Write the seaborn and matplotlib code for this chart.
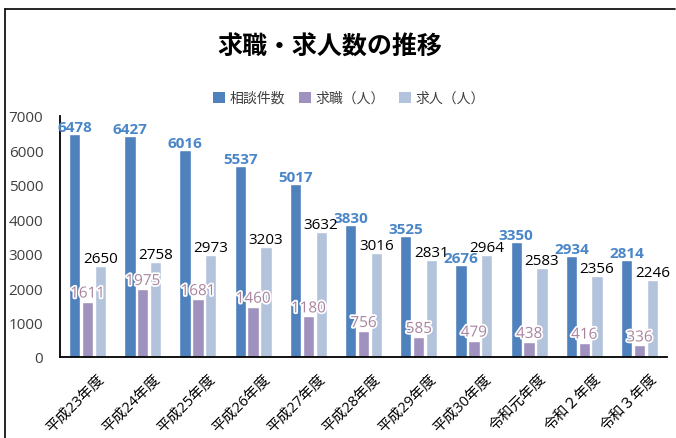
import matplotlib
matplotlib.use("Agg")
import matplotlib.pyplot as plt
import matplotlib.patheffects as pe
import matplotlib.transforms as mtransforms
import seaborn as sns
import pandas as pd
from matplotlib.lines import Line2D
from matplotlib.patches import Patch

categories = ["平成23年度", "平成24年度", "平成25年度", "平成26年度", "平成27年度",
              "平成28年度", "平成29年度", "平成30年度", "令和元年度", "令和２年度", "令和３年度"]
series_names = ["相談件数", "求職（人）", "求人（人）"]
consult = [6478, 6427, 6016, 5537, 5017, 3830, 3525, 2676, 3350, 2934, 2814]
seekers = [1611, 1975, 1681, 1460, 1180, 756, 585, 479, 438, 416, 336]
openings = [2650, 2758, 2973, 3203, 3632, 3016, 2831, 2964, 2583, 2356, 2246]
yticks = [0, 1000, 2000, 3000, 4000, 5000, 6000, 7000]

bar_colors = ["#4F81BD", "#A092BE", "#B4C3DC"]
label_colors = ["#4A86C8", "#A9849F", "#000000"]

sns.set_theme(style="white")
FAM = ['Open Sans', 'Noto Sans CJK JP', 'DejaVu Sans']
plt.rcParams['font.family'] = FAM

df = pd.DataFrame({
    "cat": categories * 3,
    "series": [series_names[0]] * 11 + [series_names[1]] * 11 + [series_names[2]] * 11,
    "value": consult + seekers + openings,
})

fig = plt.figure(figsize=(6.76, 4.39), dpi=100)
ax = fig.add_axes([60/676, 1 - 358/439, 607/676, 241/439])

sns.barplot(data=df, x="cat", y="value", hue="series", order=categories,
            hue_order=series_names, palette=bar_colors, width=0.7, gap=0.12,
            saturation=1, ax=ax, legend=False)

ax.set_ylim(0, 7000)
ax.set_xlim(-0.5, 10.5)
ax.set_yticks(yticks)
ax.set_yticklabels([str(v) for v in yticks], fontsize=11, color="#404040")
ax.tick_params(axis="y", length=0, pad=12)
ax.tick_params(axis="x", length=0, pad=0)
ax.set_xticks(range(len(categories)))
ax.set_xticklabels(categories, rotation=45, ha="right", va="center",
                   rotation_mode="anchor", fontsize=10.5, color="#000000")
offset = mtransforms.ScaledTranslation(15/100, -19/100, fig.dpi_scale_trans)
for lab in ax.get_xticklabels():
    lab.set_transform(lab.get_transform() + offset)
ax.set_xlabel("")
ax.set_ylabel("")
for s in ["top", "right"]:
    ax.spines[s].set_visible(False)
for s in ["left", "bottom"]:
    ax.spines[s].set_color("#000000")
    ax.spines[s].set_linewidth(1.3)
ax.grid(False)

for i, cont in enumerate(ax.containers):
    kw = {}
    if i == 1:
        kw["path_effects"] = [pe.withStroke(linewidth=2.5, foreground="white")]
    ax.bar_label(cont, labels=[str(int(v)) for v in cont.datavalues], padding=0,
                 fontsize=11, color=label_colors[i],
                 fontweight="bold" if i == 0 else "normal", **kw)

fig.text(330/676, 1 - 48/439, "求職・求人数の推移", ha="center", va="center",
         fontsize=18, fontweight="bold", color="#000000",
         family=['Noto Sans CJK JP', 'DejaVu Sans'])

handles = [Patch(facecolor=c, edgecolor="none") for c in bar_colors]
fig.legend(handles, series_names, loc="center", bbox_to_anchor=(349/676, 1 - 99/439),
           ncol=3, frameon=False, handlelength=0.85, handleheight=0.85,
           handletextpad=0.35, columnspacing=1.0, labelcolor="#404040",
           prop={"family": ['Noto Sans CJK JP', 'DejaVu Sans'], "size": 10})

# outer frame lines (left and top)
fig.add_artist(Line2D([5/676, 5/676], [0, 1 - 10/439], transform=fig.transFigure,
                      color="#000000", linewidth=1.2))
fig.add_artist(Line2D([5/676, 675/676], [1 - 10/439, 1 - 10/439], transform=fig.transFigure,
                      color="#000000", linewidth=1.2))

fig.savefig("out.png", dpi=100)
